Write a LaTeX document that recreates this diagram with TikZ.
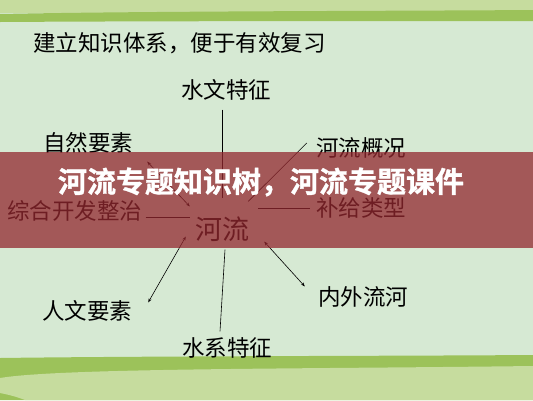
\documentclass[tikz,border=0pt]{standalone}
\usepackage{fontspec}
\newfontfamily\cjk{Noto Sans CJK SC}
\newfontfamily\cjkbanner[FakeBold=1.2]{Noto Sans CJK SC Bold}
\usetikzlibrary{positioning,arrows.meta}
\definecolor{paleGreen}{RGB}{214,233,211}
\definecolor{leafGreen}{RGB}{156,194,90}
\definecolor{lightLeaf}{RGB}{198,220,158}
\definecolor{bannerRed}{RGB}{147,40,47}

\begin{document}
\begin{tikzpicture}[x=1pt, y=-1pt,
    lbl/.style={inner sep=0pt, font=\cjk\fontsize{22.5}{24}\selectfont},
    link/.style={black, line width=0.6pt},
    dbl/.style={link, {Stealth[length=4pt,width=3pt]}-{Stealth[length=4pt,width=3pt]}}]
          \useasboundingbox (0,0) rectangle (533,400);
          % background and the green stripes
          \fill[paleGreen] (0,0) rectangle (533,400);
          \fill[lightLeaf] (0,0) rectangle (533,13);
          \fill[leafGreen] (0,14) .. controls (150,11) and (400,11) .. (533,10) -- (533,21) .. controls (400,21) and (150,21) .. (0,22) -- cycle;
          \fill[leafGreen] (0,358) .. controls (150,356) and (400,356) .. (533,355) -- (533,400) -- (0,400) -- cycle;
          \fill[lightLeaf] (0,378) .. controls (60,368) and (300,369) .. (533,366) -- (533,400) -- (25,400) .. controls (15,396) and (5,394) .. (0,393) -- cycle;
          \node[lbl, anchor=west] (title) at (33,43) {建立知识体系，便于有效复习};
          \node[lbl] (swtz) at (226,90) {水文特征};
          \node[lbl] (zrys) at (88,143) {自然要素};
          \node[lbl] (hlgk) at (361,148) {河流概况};
          \node[lbl] (zhkf) at (75,211) {综合开发整治};
          \node[lbl] (bjlx) at (361,208) {补给类型};
          \node[lbl, font=\cjk\fontsize{27}{29}\selectfont] (hl) at (222,229) {河流};
          \node[lbl] (rwys) at (87,311) {人文要素};
          \node[lbl] (nwlh) at (363,297) {内外流河};
          \node[lbl] (sxtz) at (227,348) {水系特征};
          \draw[link] (hl.north |- swtz.south) ++(0,9) -- ([shift={(0,-18)}]hl.north);
          \draw[link] ([shift={(3,6)}]zhkf.east) -- ([shift={(-5,-12)}]hl.west);
          \draw[link] ([shift={(9,-21)}]hl.east) -- ([shift={(-6,0)}]bjlx.west);
          \draw[link] ([shift={(-9,-5)}]hlgk.west) -- ([shift={(-1,-15)}]hl.north east);
          \draw[dbl] ([shift={(14,8)}]zrys.south east) -- ([shift={(-5,-10)}]hl.north west);
          \draw[dbl] ([shift={(16,2)}]rwys.north east) -- ([shift={(-9,-5)}]hl.south west);
          \draw[dbl] ([shift={(-13,0)}]nwlh.north west) -- ([shift={(15,0)}]hl.south east);
          \draw[link] ([shift={(-7,-6)}]sxtz.north) -- ([shift={(-2,8)}]hl.south -| sxtz.north);
          % the banner across the middle
          \fill[bannerRed, opacity=0.75] (0,152) rectangle (533,248);
          \node[inner sep=0pt, text=white, font=\cjkbanner\fontsize{29}{31}\selectfont] (banner) at (261,182) {河流专题知识树，河流专题课件};
        \end{tikzpicture}
\end{document}
